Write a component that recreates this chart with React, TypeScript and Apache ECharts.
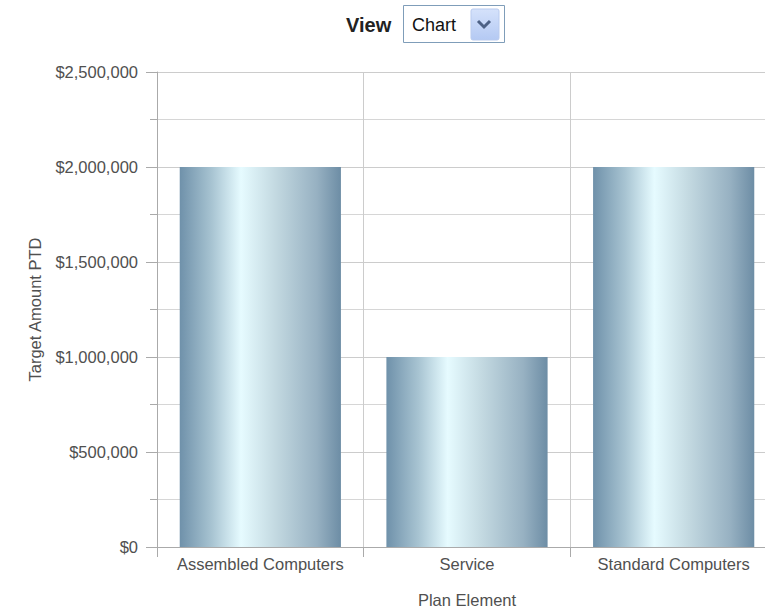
import React, { useEffect, useRef } from "react";
import * as echarts from "echarts";

const categories = ["Assembled Computers", "Service", "Standard Computers"];
const targetAmounts = [2000000, 1000000, 2000000];
const yMin = 0;
const yMax = 2500000;
const yInterval = 500000;

const fmt = (v: number) => "$" + v.toLocaleString("en-US");

export default function App() {
  const ref = useRef<HTMLDivElement>(null);
  useEffect(() => {
    if (!ref.current) return;
    const chart = echarts.init(ref.current, undefined, { renderer: "svg" });
    const font = "Liberation Sans, Arial, sans-serif";
    chart.setOption({
      animation: false,
      backgroundColor: "#ffffff",
      textStyle: { fontFamily: font },
      grid: { left: 157, top: 72, right: 23, bottom: 60, containLabel: false },
      xAxis: {
        type: "category",
        data: categories,
        boundaryGap: true,
        name: "Plan Element",
        nameLocation: "middle",
        nameGap: 44,
        nameTextStyle: { color: "#505050", fontSize: 16.5, fontFamily: font },
        axisLine: { show: true, lineStyle: { color: "#aaaaaa", width: 1 } },
        axisTick: { show: true, interval: 0, length: 10, alignWithLabel: false, lineStyle: { color: "#aaaaaa" } },
        axisLabel: { color: "#505050", fontSize: 16.5, margin: 8, interval: 0, fontFamily: font },
        splitLine: { show: true, interval: 0, lineStyle: { color: "#cccccc", width: 1 } },
      },
      yAxis: {
        type: "value",
        min: yMin,
        max: yMax,
        interval: yInterval,
        name: "Target Amount PTD",
        nameLocation: "middle",
        nameGap: 114,
        nameRotate: 90,
        nameTextStyle: { color: "#505050", fontSize: 16.5, fontFamily: font },
        axisLine: { show: true, lineStyle: { color: "#aaaaaa", width: 1 } },
        axisTick: { show: true, length: 11, inside: false, lineStyle: { color: "#aaaaaa" } },
        minorTick: { show: true, splitNumber: 2, length: 7, lineStyle: { color: "#aaaaaa" } },
        minorSplitLine: { show: true, lineStyle: { color: "#d6d6d6", width: 1 } },
        axisLabel: { color: "#505050", fontSize: 16.5, margin: 19, fontFamily: font, formatter: (v: number) => fmt(v) },
        splitLine: { show: true, lineStyle: { color: "#cccccc", width: 1 } },
      },
      series: [
        {
          type: "bar",
          data: targetAmounts,
          barWidth: "78%",
          itemStyle: {
            color: new echarts.graphic.LinearGradient(0, 0, 1, 0, [
              { offset: 0, color: "#6f91aa" },
              { offset: 0.2, color: "#a8c4d2" },
              { offset: 0.38, color: "#e6fbff" },
              { offset: 0.6, color: "#c2d8e0" },
              { offset: 0.85, color: "#97b1c2" },
              { offset: 1, color: "#6d8da5" },
            ]),
          },
        },
      ],
      graphic: [
        {
          type: "text",
          x: 346,
          y: 25,
          style: { text: "View", font: "bold 20px " + font, fill: "#222", verticalAlign: "middle" },
        },
        {
          type: "rect",
          shape: { x: 403.5, y: 5.5, width: 101, height: 37 },
          style: { fill: "#ffffff", stroke: "#7f9db9", lineWidth: 1 },
        },
        {
          type: "text",
          x: 412,
          y: 25,
          style: { text: "Chart", font: "18px " + font, fill: "#111", verticalAlign: "middle" },
        },
        {
          type: "rect",
          shape: { x: 471, y: 9, width: 28, height: 31, r: 2 },
          style: {
            fill: new echarts.graphic.LinearGradient(0, 0, 0, 1, [
              { offset: 0, color: "#d5e2fb" },
              { offset: 1, color: "#b4c9f3" },
            ]),
            stroke: "#b9cbef",
          },
        },
        {
          type: "polyline",
          shape: { points: [[478, 21], [484, 27], [490, 21]] },
          style: { stroke: "#4d6185", lineWidth: 3, fill: null },
        },
      ],
    });
    return () => chart.dispose();
  }, []);
  return (
    <div style={{ position: "fixed", left: 0, top: 0, width: 765, height: 613, overflow: "hidden", background: "#fff" }}>
      <div ref={ref} style={{ width: 800, height: 613 }} />
    </div>
  );
}
